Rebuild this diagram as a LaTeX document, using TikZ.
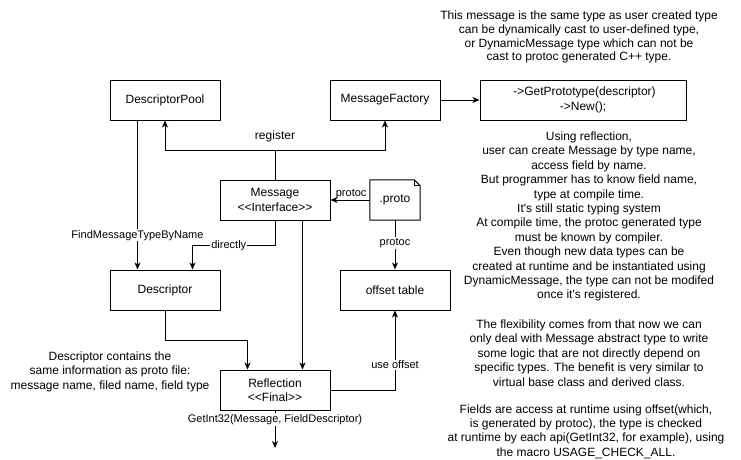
\documentclass[tikz,border=0pt]{standalone}
\usepackage{fontspec}
\setmainfont{Liberation Sans}
\usetikzlibrary{arrows.meta,calc}
\begin{document}
\begin{tikzpicture}[x=1pt,y=-1pt,
  box/.style={draw, line width=1pt, minimum width=110pt, minimum height=40pt, inner sep=0pt,
    font=\fontsize{12}{14.4}\selectfont, align=center},
  elabel/.style={fill=white, font=\fontsize{11}{13}\selectfont, inner sep=1pt},
  txt/.style={font=\fontsize{12}{14.4}\selectfont, align=center, inner sep=0pt},
  arr/.style={-{Stealth[length=7pt,width=6pt,inset=2pt]}, line width=1pt},
  conn/.style={line width=1pt}]
\useasboundingbox (0,0) rectangle (741,460);
% boxes
\node[box] (dpool) at (165,100) {DescriptorPool};
\node[box] (mfact) at (385,100) {MessageFactory};
\node[box, minimum width=206pt] (gp) at (583,100) {\hspace*{3pt}->GetPrototype(descriptor)\\->New();};
\node[box] (msg) at (275,200) {Message\\<{}<Interface>{}>};
\node[txt, minimum width=50pt, minimum height=40pt] (proto) at (395,200) {.proto};
\draw[conn, line join=miter] (proto.south west) -- (proto.north west) -- ([xshift=-6pt]proto.north east)
  -- ([yshift=-6pt]proto.north east) -- (proto.south east) -- cycle;
\draw[line width=0.8pt] ([xshift=-6pt]proto.north east) -- ([xshift=-6pt,yshift=-6pt]proto.north east) -- ([yshift=-6pt]proto.north east);
\node[box] (desc) at (165,290) {Descriptor};
\node[box] (offs) at (395,290) {offset table};
\node[box] (refl) at (275,390) {Reflection\\<{}<Final>{}>};
% connectors
\coordinate (reg) at (275,150);
\draw[arr] (msg.north) -- (reg) -| (dpool.south);
\draw[arr] (reg) -| (mfact.south);
\node[txt] (reglbl) at ($(reg)+(0,-14)$) {register};
\draw[arr] (mfact.east) -- (gp.west);
\draw[arr] (proto.west) -- node[elabel, fill=none, above=0pt, xshift=1pt]{protoc} (msg.east);
\draw[arr] (proto.south) -- node[elabel, pos=0.46]{protoc} (offs.north);
\draw[arr] ([xshift=-27.5pt]dpool.south) -- node[elabel, pos=0.77]{FindMessageTypeByName} ([xshift=-27.5pt]desc.north);
\draw[arr] (msg.south) -- ++(0,25) -| node[elabel, pos=0.28]{directly} ([xshift=27.5pt]desc.north);
\draw[arr] ([xshift=27.5pt]msg.south) -- ([xshift=27.5pt]refl.north);
\draw[arr] (desc.south) -- ++(0,30) -| ([xshift=-27.5pt]refl.north);
\draw[arr] (refl.east) -| node[elabel, pos=0.66]{use offset} (offs.south);
\coordinate (out) at (275,448);
\draw[arr] (refl.south) -- node[elabel, pos=0.24]{GetInt32(Message, FieldDescriptor)} (out);
% free texts
\node[txt, font=\fontsize{12}{13.9}\selectfont] (toptext) at (579,37) {This message is the same type as user created type\\
can be dynamically cast to user-defined type,\\
or DynamicMessage type which can not be\\
cast to protoc generated C++ type.};
\node[txt] (desctext) at (110,371.5) {Descriptor contains the\\
same information as proto file:\\
message name, filed name, field type};
\node[txt] (rt1) at (589,216.5) {Using reflection,\\
user can create Message by type name,\\
access field by name.\\
But programmer has to know field name,\\
type at compile time.\\
It\textquotesingle s still static typing system\\
At compile time, the protoc generated type\\
must be known by compiler.\\
Even though new data types can be\\
created at runtime and be instantiated using\\
DynamicMessage, the type can not be modifed\\
once it\textquotesingle s registered.};
\node[txt] (rt2) at (589,353) {The flexibility comes from that now we can\\
only deal with Message abstract type to write\\
some logic that are not directly depend on\\
specific types. The benefit is very similar to\\
virtual base class and derived class.};
\node[txt] (rt3) at (586,431.5) {Fields are access at runtime using offset(which,\\
is generated by protoc), the type is checked\\
at runtime by each api(GetInt32, for example), using\\
the macro USAGE\_CHECK\_ALL.};
\end{tikzpicture}
\end{document}
